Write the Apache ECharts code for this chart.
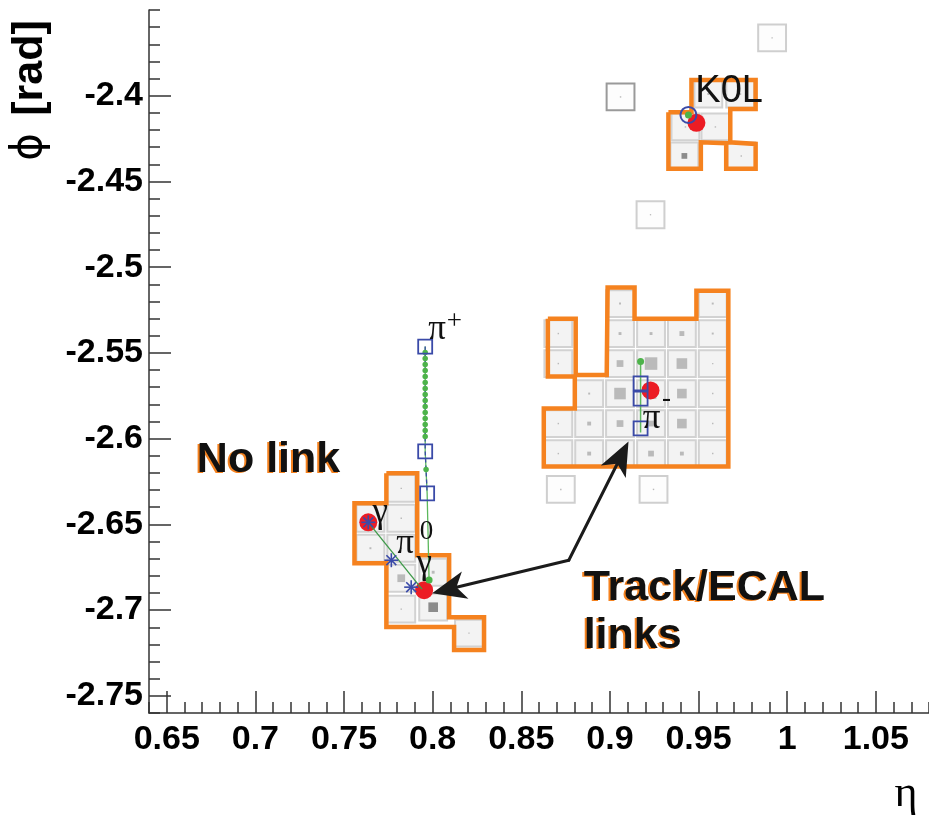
<!DOCTYPE html>
<html><head><meta charset="utf-8">
<script src="https://cdn.jsdelivr.net/npm/echarts@6/dist/echarts.min.js"></script>
<style>html,body{margin:0;padding:0;background:#fff}#c{width:929px;height:821px}</style>
</head><body><div id="c"></div>
<script>
// ---------- axes ----------
const etaRange = [0.64, 1.08];
const phiRange = [-2.76, -2.35];
const etaMajorTicks = [0.65, 0.7, 0.75, 0.8, 0.85, 0.9, 0.95, 1, 1.05];
const phiMajorTicks = [-2.75, -2.7, -2.65, -2.6, -2.55, -2.5, -2.45, -2.4];

// ---------- ECAL cells (centre eta, centre phi, deposited energy) ----------
const CELL = 0.0174;
const cellEta = [
  // pi- cluster
  0.9057, 0.9580,
  0.8709, 0.9057, 0.9232, 0.9406, 0.9580,
  0.8709, 0.9057, 0.9232, 0.9406, 0.9580,
  0.8883, 0.9057, 0.9232, 0.9406, 0.9580,
  0.8709, 0.8883, 0.9057, 0.9232, 0.9406, 0.9580,
  0.8709, 0.8883, 0.9057, 0.9232, 0.9406, 0.9580,
  // K0L cluster
  0.9555, 0.9735, 0.9426, 0.9595, 0.9420, 0.9741,
  // gamma cluster
  0.7649, 0.7649, 0.7823, 0.7823, 0.7823, 0.7823, 0.7823, 0.8003, 0.8003, 0.8205,
  // isolated cells
  0.8723, 0.9246, 0.9060, 0.9915, 0.9229
];
const cellPhi = [
  -2.5212, -2.5212,
  -2.5387, -2.5387, -2.5387, -2.5387, -2.5387,
  -2.5562, -2.5562, -2.5562, -2.5562, -2.5562,
  -2.5737, -2.5737, -2.5737, -2.5737, -2.5737,
  -2.5912, -2.5912, -2.5912, -2.5912, -2.5912, -2.5912,
  -2.6087, -2.6087, -2.6087, -2.6087, -2.6087, -2.6087,
  -2.3990, -2.3990, -2.4182, -2.4182, -2.4351, -2.4351,
  -2.6464, -2.6639, -2.6290, -2.6464, -2.6639, -2.6814, -2.6994, -2.6779, -2.6983, -2.7134,
  -2.6296, -2.6296, -2.4007, -2.3663, -2.4694
];
const cellEnergy = [
  0.24, 0.24,
  0.13, 0.53, 0.53, 1.5, 0.24,
  0.13, 2.9, 10, 7.2, 0.06,
  0.24, 8.5, 7.2, 5.9, 0.13,
  0.13, 0.95, 2.9, 2.1, 5.9, 0.13,
  0.13, 0.95, 0.13, 2.1, 0.95, 0.13,
  0.24, 0.24, 0.13, 0.13, 2.1, 0.13,
  0.24, 0.24, 0.13, 0.13, 0.13, 3.8, 0.13, 0.53, 5.9, 0.06,
  0.13, 0.13, 0.13, 0.06, 0.06
];
const cellKind = [
  'cl','cl',
  'cl','cl','cl','cl','cl',
  'cl','cl','cl','cl','cl',
  'cl','cl','cl','cl','cl',
  'cl','cl','cl','cl','cl','cl',
  'cl','cl','cl','cl','cl','cl',
  'cl','cl','cl','cl','hot','cl',
  'cl','cl','cl','cl','cl','cl','cl','cl','hot','cl',
  'iso','iso','isoHot','iso','iso'
];

// ---------- cluster outlines (eta, phi vertices) ----------
const piMinusOutlineEta = [0.8650, 0.8807, 0.8807, 0.8982, 0.8987, 0.9139, 0.9139, 0.9488, 0.9488, 0.9668, 0.9668, 0.8627, 0.8627, 0.8802, 0.8802, 0.8650];
const piMinusOutlinePhi = [-2.5300, -2.5300, -2.5629, -2.5629, -2.5119, -2.5119, -2.5300, -2.5300, -2.5137, -2.5137, -2.6162, -2.6162, -2.5824, -2.5824, -2.5637, -2.5637];
const gammaOutlineEta = [0.7739, 0.7913, 0.7913, 0.8093, 0.8093, 0.8290, 0.8290, 0.8121, 0.8121, 0.7739, 0.7739, 0.7559, 0.7559, 0.7739];
const gammaOutlinePhi = [-2.6202, -2.6202, -2.6680, -2.6680, -2.7041, -2.7041, -2.7233, -2.7233, -2.7099, -2.7099, -2.6726, -2.6726, -2.6377, -2.6377];
const k0lOutlineEta = [0.9330, 0.9460, 0.9460, 0.9822, 0.9822, 0.9679, 0.9679, 0.9822, 0.9822, 0.9656, 0.9656, 0.9513, 0.9513, 0.9330];
const k0lOutlinePhi = [-2.4097, -2.4097, -2.3908, -2.3908, -2.4077, -2.4077, -2.4272, -2.4281, -2.4426, -2.4426, -2.4277, -2.4272, -2.4426, -2.4426];

// ---------- tracks ----------
const piPlusLineEta = [0.7958, 0.7958, 0.7969, 0.7980];
const piPlusLinePhi = [-2.5463, -2.6074, -2.6319, -2.6825];
const piPlusHitEta = [0.7958, 0.7958, 0.7969];
const piPlusHitPhi = [-2.5463, -2.6074, -2.6319];
const piPlusPointPhi = [-2.5498, -2.5533, -2.5568, -2.5603, -2.5637, -2.5672, -2.5707, -2.5742, -2.5777, -2.5812, -2.5847, -2.5882, -2.5917, -2.5952, -2.5987, -2.6180];
const piPlusPointEta = [0.7958, 0.7958, 0.7958, 0.7958, 0.7958, 0.7958, 0.7958, 0.7958, 0.7958, 0.7958, 0.7958, 0.7958, 0.7958, 0.7958, 0.7958, 0.7963];
const piMinusLineEta = [0.9173, 0.9173];
const piMinusLinePhi = [-2.5550, -2.5964];
const piMinusHitEta = [0.9173, 0.9173, 0.9173];
const piMinusHitPhi = [-2.5678, -2.5766, -2.5940];

// ---------- reconstructed objects ----------
const clusterPosEta = [0.7637, 0.7952, 0.9229, 0.9488];
const clusterPosPhi = [-2.6488, -2.6884, -2.5719, -2.4158];
const photonEta = [0.7637, 0.7767, 0.7879];
const photonPhi = [-2.6488, -2.6709, -2.6866];
const pi0LineEta = [0.7637, 0.7940];
const pi0LinePhi = [-2.6488, -2.6878];
const greenEndEta = [0.7980, 0.9173, 0.9443];
const greenEndPhi = [-2.6825, -2.5550, -2.4112];
const k0lTrackEta = [0.9443];
const k0lTrackPhi = [-2.4112];

// ---------- link arrows (bend point -> tip) ----------
const arrowFromEta = [0.8768, 0.8768];
const arrowFromPhi = [-2.6709, -2.6709];
const arrowToEta = [0.7997, 0.9105];
const arrowToPhi = [-2.6901, -2.6016];

// ---------- annotations ----------
const labelText = ['π', '+', 'γ', 'π', '0', 'γ', 'π', '-', 'K0L', 'No link', 'Track/ECAL', 'links'];
const labelEta = [0.8025, 0.8122, 0.7705, 0.7845, 0.7966, 0.7952, 0.9235, 0.9319, 0.9482, 0.6670, 0.8852, 0.8852];
const labelPhi = [-2.5364, -2.5318, -2.6430, -2.6616, -2.6546, -2.6732, -2.5882, -2.5766, -2.3973, -2.6127, -2.6872, -2.7152];
const labelRole = ['sym', 'sup', 'sym', 'sym', 'sup', 'sym', 'sym', 'sup', 'name', 'note', 'note', 'note'];

// ---------- derived ----------
const etaMinorTicks = [], phiMinorTicks = [];
for (let i = 0; i <= 44; i++) { const v = +(etaRange[0] + i * 0.01).toFixed(2); if (!etaMajorTicks.includes(v)) etaMinorTicks.push(v); }
for (let i = 0; i <= 41; i++) { const v = +(phiRange[0] + i * 0.01).toFixed(2); if (!phiMajorTicks.includes(v)) phiMinorTicks.push(v); }
const pairs = (a, b) => a.map((v, i) => [v, b[i]]);
const closed = (a, b) => { const d = pairs(a, b); d.push(d[0]); return d; };

const ORANGE = '#f5821f', AX = '#333', BLUE = '#3a4aa8', GREEN = '#4db34a', RED = '#ec1c24';
const fmt = v => String(+(+v).toFixed(2));
const labFont = { color: '#000', fontSize: 34, fontWeight: 'bold', fontFamily: 'Liberation Sans' };

function outline(a, b) {
  return { type: 'line', data: closed(a, b), symbol: 'none', silent: true, z: 3, clip: false,
    lineStyle: { color: ORANGE, width: 4.5, join: 'miter', miterLimit: 10 } };
}

const roleStyle = {
  sym: { font: '35px "Liberation Serif"', align: 'center' },
  sup: { font: '27px "Liberation Serif"', align: 'center' },
  name: { font: '38px "Liberation Sans"', align: 'left' },
  note: { font: 'bold 43px "Liberation Sans"', align: 'left' }
};

const option = {
  animation: false,
  backgroundColor: '#fff',
  grid: { left: 149, right: -2, top: 10, bottom: 108 },
  xAxis: [
    { type: 'value', min: etaRange[0], max: etaRange[1], position: 'bottom',
      axisLine: { onZero: false, lineStyle: { color: AX, width: 1.5 } },
      axisTick: { customValues: etaMajorTicks, inside: true, length: 22, lineStyle: { color: AX, width: 1.5 } },
      axisLabel: Object.assign({ customValues: etaMajorTicks, margin: 10, formatter: fmt }, labFont),
      splitLine: { show: false } },
    { type: 'value', min: etaRange[0], max: etaRange[1], position: 'bottom',
      axisLine: { show: false },
      axisTick: { customValues: etaMinorTicks, inside: true, length: 11, lineStyle: { color: AX, width: 1.5 } },
      axisLabel: { show: false }, splitLine: { show: false } }
  ],
  yAxis: [
    { type: 'value', min: phiRange[0], max: phiRange[1], position: 'left',
      axisLine: { onZero: false, lineStyle: { color: AX, width: 1.5 } },
      axisTick: { customValues: phiMajorTicks, inside: true, length: 22, lineStyle: { color: AX, width: 1.5 } },
      axisLabel: Object.assign({ customValues: phiMajorTicks, margin: 6, formatter: fmt }, labFont),
      splitLine: { show: false } },
    { type: 'value', min: phiRange[0], max: phiRange[1], position: 'left',
      axisLine: { show: false },
      axisTick: { customValues: phiMinorTicks, inside: true, length: 11, lineStyle: { color: AX, width: 1.5 } },
      axisLabel: { show: false }, splitLine: { show: false } }
  ],
  graphic: [
    { type: 'text', x: 30, y: 68, rotation: Math.PI / 2,
      style: { text: '[rad]', font: 'bold 43px "Liberation Sans"', fill: '#000', align: 'center', verticalAlign: 'middle' } },
    { type: 'text', x: 30, y: 147, rotation: Math.PI / 2,
      style: { text: 'ϕ', font: '42px "DejaVu Sans"', fill: '#000', align: 'center', verticalAlign: 'middle' } },
    { type: 'text', x: 906, y: 794,
      style: { text: 'η', font: '44px "Liberation Serif"', fill: '#000', align: 'center', verticalAlign: 'middle' } }
  ],
  series: [
    { type: 'custom', z: 1, silent: true, clip: true,
      data: cellEta.map((e, i) => [e, cellPhi[i], cellEnergy[i]]),
      encode: { x: 0, y: 1 },
      renderItem: (params, api) => {
        const i = params.dataIndex, eta = api.value(0), phi = api.value(1), en = api.value(2);
        const a = api.coord([eta - CELL / 2, phi + CELL / 2]);
        const b = api.coord([eta + CELL / 2, phi - CELL / 2]);
        const c = api.coord([eta, phi]);
        const w = b[0] - a[0], h = b[1] - a[1];
        const kind = cellKind[i];
        const iso = kind === 'iso' || kind === 'isoHot';
        const side = Math.max(1.3, Math.min(w, h) * 0.42 * Math.sqrt(en / 10));
        return { type: 'group', children: [
          { type: 'rect', shape: { x: a[0] + 1.5, y: a[1] + 1.5, width: w - 3, height: h - 3 },
            style: { fill: iso ? '#fdfdfd' : '#f3f3f3', stroke: kind === 'isoHot' ? '#9a9a9a' : (iso ? '#cfcfcf' : '#d2d2d2'), lineWidth: 2 } },
          { type: 'rect', shape: { x: c[0] - side / 2, y: c[1] - side / 2, width: side, height: side },
            style: { fill: kind === 'hot' ? '#8c8c8c' : '#bababa' } }
        ] };
      } },
    outline(piMinusOutlineEta, piMinusOutlinePhi),
    outline(gammaOutlineEta, gammaOutlinePhi),
    outline(k0lOutlineEta, k0lOutlinePhi),
    { type: 'scatter', z: 4, silent: true, data: pairs(clusterPosEta, clusterPosPhi), symbol: 'circle', symbolSize: 18,
      itemStyle: { color: RED, opacity: 1 } },
    { type: 'line', z: 5, silent: true, data: pairs(piPlusLineEta, piPlusLinePhi), symbol: 'none', lineStyle: { color: '#5cb85c', width: 1.3 } },
    { type: 'line', z: 5, silent: true, data: pairs(piMinusLineEta, piMinusLinePhi), symbol: 'none', lineStyle: { color: '#5cb85c', width: 1.5 } },
    { type: 'line', z: 5, silent: true, data: pairs(pi0LineEta, pi0LinePhi), symbol: 'none', lineStyle: { color: '#3f9a4a', width: 1.3 } },
    { type: 'scatter', z: 6, silent: true, data: pairs(piPlusPointEta, piPlusPointPhi), symbolSize: 5.5, itemStyle: { color: GREEN, opacity: 1 } },
    { type: 'scatter', z: 6, silent: true, data: pairs(greenEndEta, greenEndPhi), symbolSize: 7, itemStyle: { color: GREEN, opacity: 1 } },
    { type: 'line', z: 6, silent: true, data: pairs(piPlusHitEta, piPlusHitPhi), symbol: 'none', lineStyle: { color: BLUE, width: 1.3, type: [4, 3] } },
    { type: 'scatter', z: 7, silent: true, data: pairs(piPlusHitEta, piPlusHitPhi).concat(pairs(piMinusHitEta, piMinusHitPhi)),
      symbol: 'rect', symbolSize: 14, itemStyle: { color: 'rgba(255,255,255,0)', borderColor: BLUE, borderWidth: 1.8, opacity: 1 } },
    { type: 'scatter', z: 7, silent: true, data: pairs(k0lTrackEta, k0lTrackPhi), symbol: 'circle', symbolSize: 16,
      itemStyle: { color: 'rgba(255,255,255,0)', borderColor: BLUE, borderWidth: 2, opacity: 1 } },
    { type: 'custom', z: 7, silent: true, data: pairs(photonEta, photonPhi), encode: { x: 0, y: 1 },
      renderItem: (params, api) => {
        const c = api.coord([api.value(0), api.value(1)]), r = 7, ch = [];
        for (let k = 0; k < 4; k++) {
          const t = k * Math.PI / 4;
          ch.push({ type: 'line', shape: { x1: c[0] - r * Math.cos(t), y1: c[1] - r * Math.sin(t), x2: c[0] + r * Math.cos(t), y2: c[1] + r * Math.sin(t) },
            style: { stroke: BLUE, lineWidth: 1.6 } });
        }
        return { type: 'group', children: ch };
      } },
    { type: 'custom', z: 8, silent: true,
      data: arrowFromEta.map((e, i) => [e, arrowFromPhi[i], arrowToEta[i], arrowToPhi[i]]),
      encode: { x: [0, 2], y: [1, 3] },
      renderItem: (params, api) => {
        const s = api.coord([api.value(0), api.value(1)]);
        const t = api.coord([api.value(2), api.value(3)]);
        const dx = t[0] - s[0], dy = t[1] - s[1], len = Math.hypot(dx, dy);
        const ux = dx / len, uy = dy / len, px = -uy, py = ux;
        const L = 34, W = 14, N = 9;
        const base = [t[0] - ux * L, t[1] - uy * L];
        const notch = [t[0] - ux * (L - N), t[1] - uy * (L - N)];
        return { type: 'group', children: [
          { type: 'line', shape: { x1: s[0], y1: s[1], x2: notch[0], y2: notch[1] }, style: { stroke: '#1b1b1b', lineWidth: 3, lineCap: 'round' } },
          { type: 'polygon', shape: { points: [t, [base[0] + px * W, base[1] + py * W], notch, [base[0] - px * W, base[1] - py * W]] },
            style: { fill: '#1b1b1b' } }
        ] };
      } },
    { type: 'custom', z: 9, silent: true, clip: false,
      data: labelEta.map((e, i) => [e, labelPhi[i]]), encode: { x: 0, y: 1 },
      renderItem: (params, api) => {
        const i = params.dataIndex, c = api.coord([api.value(0), api.value(1)]);
        const st = roleStyle[labelRole[i]];
        const base = { text: labelText[i], font: st.font, align: st.align, verticalAlign: 'middle' };
        const ch = [];
        if (labelRole[i] === 'note') {
          ch.push({ type: 'text', x: c[0] - 2, y: c[1] + 1, style: Object.assign({ fill: ORANGE }, base) });
        }
        ch.push({ type: 'text', x: c[0], y: c[1], style: Object.assign({ fill: '#111' }, base) });
        return { type: 'group', children: ch };
      } }
  ]
};

const chart = echarts.init(document.getElementById('c'), null, { renderer: 'canvas' });
chart.setOption(option);
</script>
</body></html>
